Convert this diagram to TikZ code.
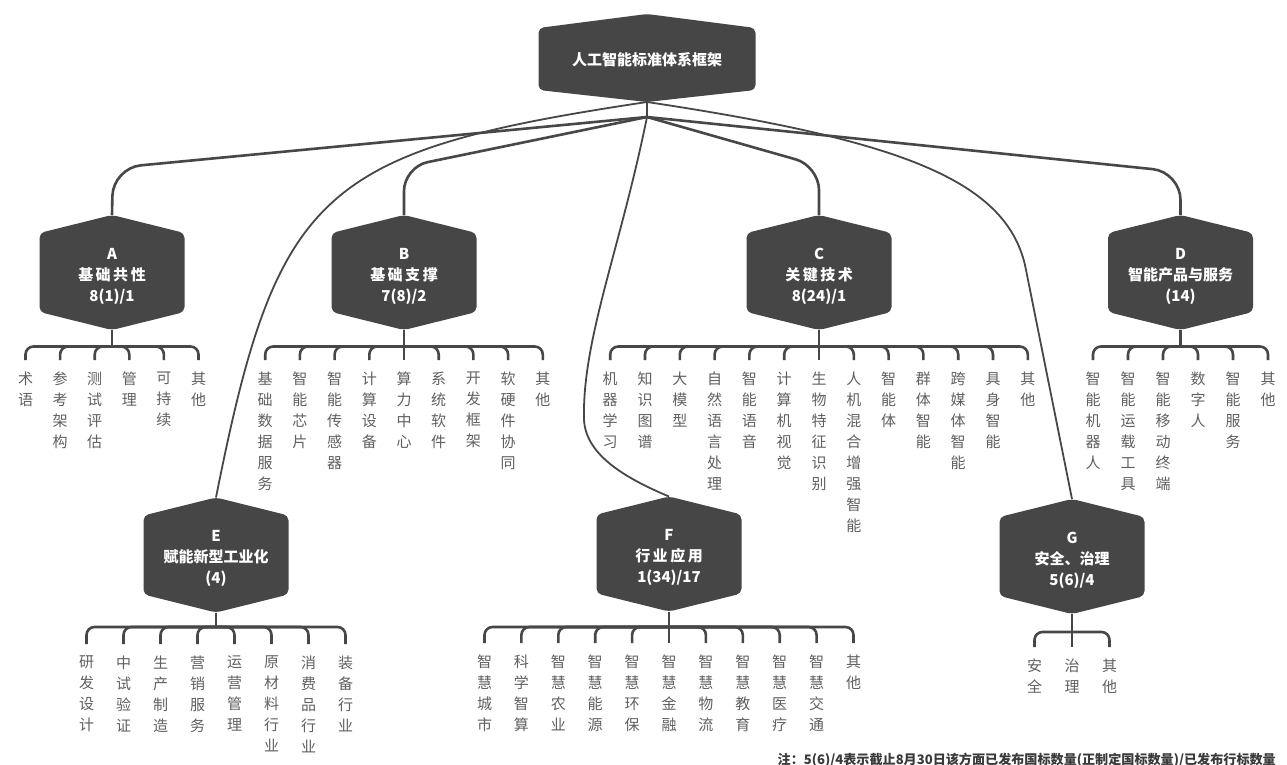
\documentclass[tikz,border=0pt]{standalone}
\usepackage{fontspec}
\setmainfont{Noto Sans CJK SC}
\definecolor{hexgray}{HTML}{464646}
\definecolor{linegray}{HTML}{474747}
\definecolor{kidgray}{HTML}{606060}
\definecolor{notegray}{HTML}{3A3A3A}
\tikzset{
  hexfill/.style={fill=hexgray, rounded corners=5pt},
  hextext/.style={text=white, font=\fontsize{15}{21}\selectfont\bfseries, align=center, inner sep=0pt},
  kidtext/.style={text=kidgray, font=\fontsize{15}{21}\selectfont, align=center, anchor=north, inner sep=0pt},
  mainline/.style={draw=linegray, line width=2.6pt},
  thinline/.style={draw=linegray, line width=1.8pt},
  hook/.style={draw=linegray, line width=2.6pt, rounded corners=8pt},
  notetext/.style={text=notegray, font=\fontsize{13.1}{15}\selectfont\bfseries, inner sep=0pt}
}
% name, cx, cy, text
\newcommand{\hexagonbox}[4]{%
  \fill[hexfill] ({#2-72.5},{#3-39.5}) -- ({#2},{#3-57.5}) -- ({#2+72.5},{#3-39.5}) -- ({#2+72.5},{#3+39.5}) -- ({#2},{#3+57.5}) -- ({#2-72.5},{#3+39.5}) -- cycle;
  \coordinate (#1-t) at ({#2},{#3-57.5});
  \coordinate (#1-b) at ({#2},{#3+57.5});
  \node[hextext] (#1) at ({#2},{#3+3.5}) {#4};
}
% name, cx, bus y, hook end y, n, dx, list
\newcommand{\kids}[7]{%
  \coordinate (#1-bus) at (#2,#3);
  \draw[mainline] (#1-b) -- (#1-bus);
  \foreach \lbl [count=\i] in {#7} {
    \pgfmathsetmacro{\kx}{#2+(\i-(#5+1)/2)*#6}
    \pgfmathtruncatemacro{\iscenter}{(2*\i==#5+1)?1:0}
    \node[kidtext] (#1\i) at (\kx,{#4+12}) {\lbl};
    \ifnum\iscenter=1
      \draw[hook] (#1-bus) -- ([yshift=12pt]#1\i.north);
    \else
      \draw[hook] (#1-bus) -| ([yshift=12pt]#1\i.north);
    \fi
  }
}
\begin{document}
\begin{tikzpicture}[x=1pt,y=-1pt]
\useasboundingbox (0,0) rectangle (1287,765);
\fill[white] (0,0) rectangle (1287,765);

% root
\fill[hexfill] (538.5,28) -- (647,14) -- (755.5,28) -- (755.5,90) -- (647,102) -- (538.5,90) -- cycle;
\coordinate (R-b) at (647,102);
\coordinate (R-j) at (647,117);
\node[hextext] (R) at (647,60) {人工智能标准体系框架};

% level-1 boxes
\hexagonbox{A}{112}{272.5}{A\\基\,础\,共\,性\\8(1)/1}
\hexagonbox{B}{404}{272.5}{B\\基\,础\,支\,撑\\7(8)/2}
\hexagonbox{C}{819}{272.5}{C\\关\,键\,技\,术\\8(24)/1}
\hexagonbox{D}{1180.5}{272.5}{D\\智能产品与服务\\(14)}
\hexagonbox{E}{216}{555}{E\\赋能新型工业化\\(4)}
\hexagonbox{F}{669}{554}{F\\行\,业\,应\,用\\1(34)/17}
\hexagonbox{G}{1072}{556.5}{G\\安全、治理\\5(6)/4}

% connectors from root
\draw[mainline] (R-b) -- (R-j);
\draw[mainline, rounded corners=28pt] (R-j) -- (113,168) -- (A-t);
\draw[mainline, rounded corners=24pt] (R-j) -- (404,167) -- (B-t);
\draw[mainline, rounded corners=24pt] (R-j) -- (819,166) -- (C-t);
\draw[mainline, rounded corners=28pt] (R-j) -- (1180.5,172) -- (D-t);
\draw[thinline] (R-b) .. controls (320,151) and (277,190) .. (E-t);
\draw[thinline] (R-j) .. controls (620,250) and (582,340) .. (584,420) .. controls (586,455) and (625,478) .. (F-t);
\draw[thinline] (R-b) .. controls (900,140) and (1005,180) .. (1025,265) -- (G-t);

% children
\kids{A}{112}{346.5}{360}{6}{34.6}{{术\\语},{参\\考\\架\\构},{测\\试\\评\\估},{管\\理},{可\\持\\续},{其\\他}}
\kids{B}{404}{346.5}{360}{9}{34.7}{{基\\础\\数\\据\\服\\务},{智\\能\\芯\\片},{智\\能\\传\\感\\器},{计\\算\\设\\备},{算\\力\\中\\心},{系\\统\\软\\件},{开\\发\\框\\架},{软\\硬\\件\\协\\同},{其\\他}}
\kids{C}{819}{346.5}{360}{13}{34.8}{{机\\器\\学\\习},{知\\识\\图\\谱},{大\\模\\型},{自\\然\\语\\言\\处\\理},{智\\能\\语\\音},{计\\算\\机\\视\\觉},{生\\物\\特\\征\\识\\别},{人\\机\\混\\合\\增\\强\\智\\能},{智\\能\\体},{群\\体\\智\\能},{跨\\媒\\体\\智\\能},{具\\身\\智\\能},{其\\他}}
\kids{D}{1180.5}{346.5}{360}{6}{35}{{智\\能\\机\\器\\人},{智\\能\\运\\载\\工\\具},{智\\能\\移\\动\\终\\端},{数\\字\\人},{智\\能\\服\\务},{其\\他}}
\kids{E}{216}{627}{644}{8}{37}{{研\\发\\设\\计},{中\\试\\验\\证},{生\\产\\制\\造},{营\\销\\服\\务},{运\\营\\管\\理},{原\\材\\料\\行\\业},{消\\费\\品\\行\\业},{装\\备\\行\\业}}
\kids{F}{669}{627}{643}{11}{36.9}{{智\\慧\\城\\市},{科\\学\\智\\算},{智\\慧\\农\\业},{智\\慧\\能\\源},{智\\慧\\环\\保},{智\\慧\\金\\融},{智\\慧\\物\\流},{智\\慧\\教\\育},{智\\慧\\医\\疗},{智\\慧\\交\\通},{其\\他}}
\kids{G}{1072}{632}{647}{3}{37.5}{{安\\全},{治\\理},{其\\他}}

% note
\node[notetext, anchor=east] (note) at (1276,760) {注：5(6)/4表示截止8月30日该方面已发布国标数量(正制定国标数量)/已发布行标数量};
\end{tikzpicture}
\end{document}
